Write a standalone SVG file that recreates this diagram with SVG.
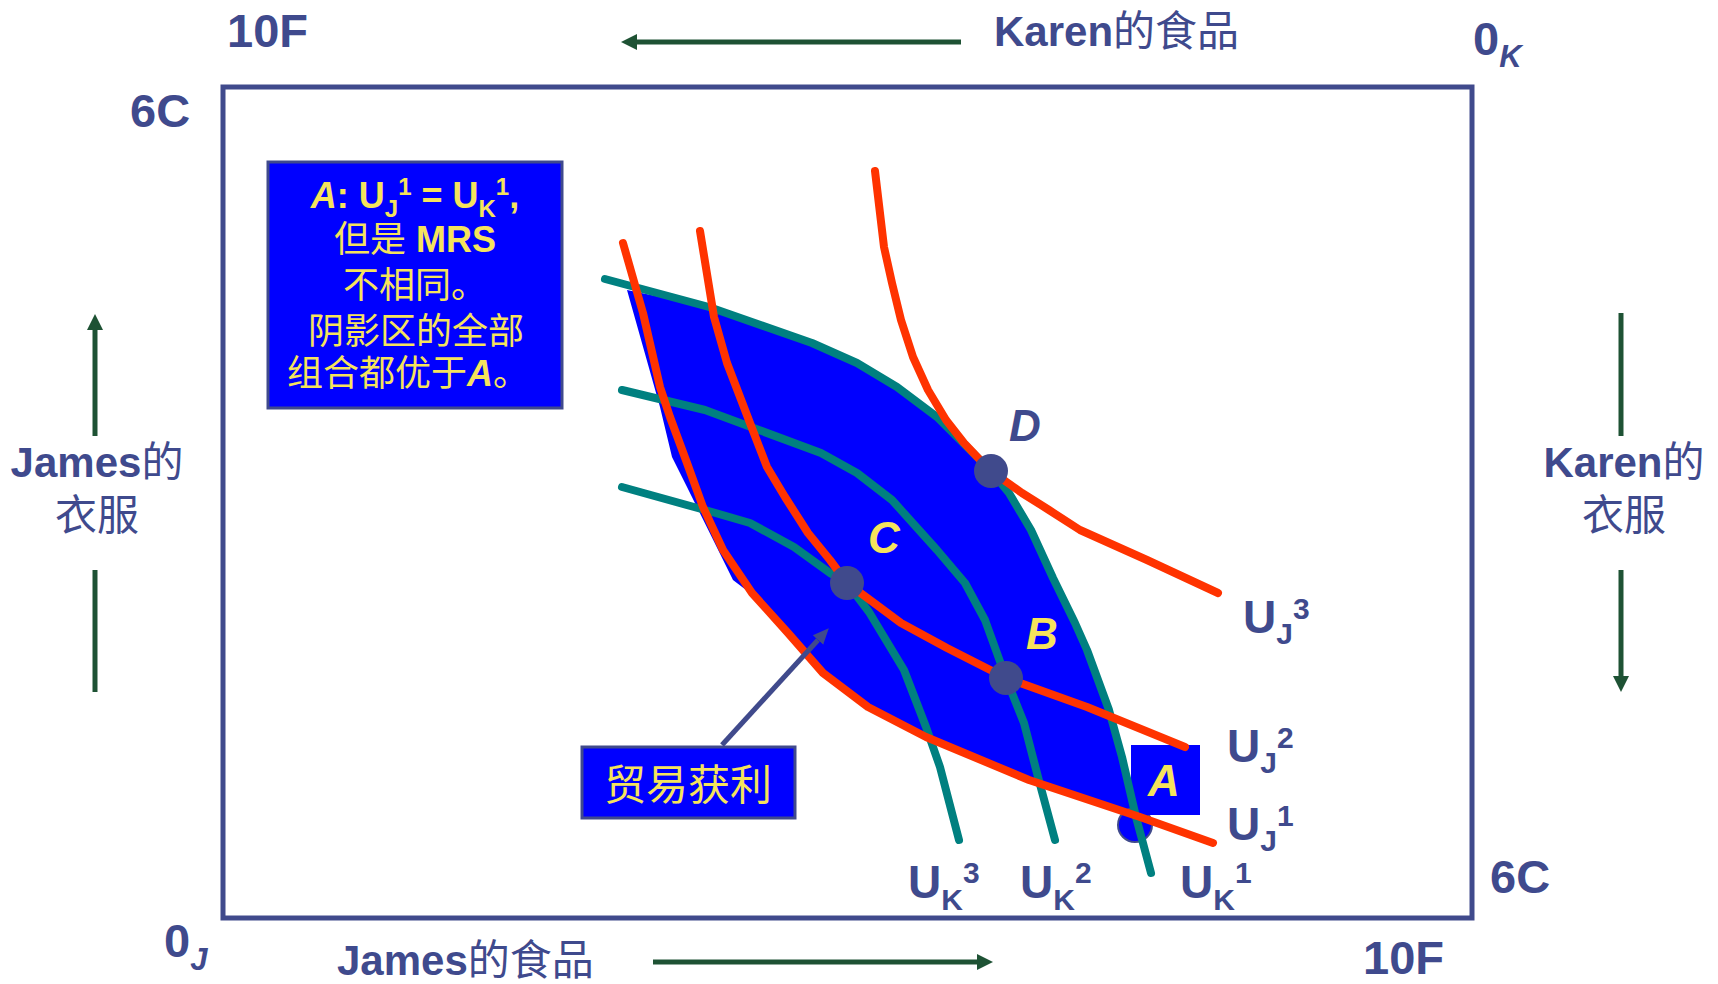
<svg xmlns="http://www.w3.org/2000/svg" width="1718" height="984" viewBox="0 0 1718 984">
<defs>
<style>
.t{font-family:'Liberation Sans','Noto Sans CJK SC',sans-serif;font-weight:bold;fill:#3F4A8D}
.c{font-weight:normal}
.y{fill:#F5E35C}
.i{font-style:italic}
.red{fill:none;stroke:#FF3300;stroke-width:8;stroke-linecap:round;stroke-linejoin:round}
.teal{fill:none;stroke:#008080;stroke-width:8;stroke-linecap:round;stroke-linejoin:round}
.dot{fill:#404A8C}
.g{stroke:#1E5234;stroke-width:5;fill:none}
.box{fill:#0000FF;stroke:#404A8C;stroke-width:3}
</style>
<marker id="gh" markerUnits="userSpaceOnUse" markerWidth="16" markerHeight="16" refX="0" refY="8" orient="auto"><path d="M0,0 L16,8 L0,16 z" fill="#1E5234"/></marker>
<marker id="sh" markerUnits="userSpaceOnUse" markerWidth="16" markerHeight="16" refX="0" refY="8" orient="auto"><path d="M0,1 L16,8 L0,15 z" fill="#404A8C"/></marker>
</defs>
<rect width="1718" height="984" fill="#FFFFFF"/>

<g id="frame">
<rect x="223" y="87" width="1249" height="831" fill="none" stroke="#404A8C" stroke-width="5"/>
</g>

<g id="axis-labels" class="t">
<text x="227" y="47" font-size="47">10F</text>
<text x="994" y="46" font-size="42">Karen<tspan class="c">的食品</tspan></text>
<text x="1473" y="55" font-size="47">0<tspan class="i" font-size="31" dy="12">K</tspan></text>
<text x="130" y="127" font-size="47">6C</text>
<text x="97" y="477" font-size="42" text-anchor="middle">James<tspan class="c">的</tspan></text>
<text x="97" y="530" font-size="42" text-anchor="middle" class="c">衣服</text>
<text x="1624" y="477" font-size="42" text-anchor="middle">Karen<tspan class="c">的</tspan></text>
<text x="1624" y="530" font-size="42" text-anchor="middle" class="c">衣服</text>
<text x="1490" y="893" font-size="47">6C</text>
<text x="164" y="957" font-size="47">0<tspan class="i" font-size="31" dy="13">J</tspan></text>
<text x="337" y="975" font-size="42">James<tspan class="c">的食品</tspan></text>
<text x="1363" y="974" font-size="47">10F</text>
</g>

<g id="gain-region">
<path d="M627,290 L709,307 L812,343 L857,363 L897,387 L937,417 L973,453 L991,471 L1009,493 L1031,530 L1053,578 L1075,623 L1087,650 L1109,710 L1122,757 L1137,818 L1029,780 L926,737 L868,707 L823,673 L788,633 L750,593 L733,580 L687,487 L672,457 L660,407 Z" fill="#0000FF"/>
</g>

<g id="point-A">
<circle cx="1135" cy="825" r="17" fill="#0000FF" stroke="#404A8C" stroke-width="2"/>
<rect x="1131" y="745" width="69" height="70" fill="#0000FF"/>
</g>

<g id="karen-curves">
<path class="teal" d="M605,279 L709,307 L812,343 L857,363 L897,387 L937,417 L973,453 L991,471 L1009,493 L1031,530 L1053,578 L1075,623 L1087,650 L1109,710 L1122,757 L1136,817 L1151,873"/>
<path class="teal" d="M622,390 L705,410 L759,430 L821,453 L857,473 L892,500 L937,550 L965,583 L985,620 L1006,678 L1024,723 L1038,777 L1055,840"/>
<path class="teal" d="M622,487 L705,510 L750,523 L794,547 L830,573 L847,583 L869,612 L904,670 L926,727 L940,767 L959,840"/>
</g>

<g id="james-curves">
<path class="red" d="M875,171 L884,247 L892,283 L901,320 L913,357 L928,390 L946,420 L964,443 L982,462 L991,471 L1022,493 L1049,510 L1080,530 L1147,560 L1218,593"/>
<path class="red" d="M700,231 L714,317 L727,363 L750,423 L767,467 L785,497 L808,533 L830,560 L847,583 L866,597 L901,623 L947,648 L1006,678 L1087,707 L1185,747"/>
<path class="red" d="M623,243 L643,313 L660,387 L670,417 L687,463 L703,507 L723,550 L752,593 L788,633 L823,673 L868,707 L926,737 L1029,780 L1140,817 L1213,843"/>
</g>

<g id="points">
<circle class="dot" cx="991" cy="471" r="17"/>
<circle class="dot" cx="847" cy="583" r="17"/>
<circle class="dot" cx="1006" cy="678" r="17"/>
</g>

<g id="point-labels" class="t i">
<text x="1009" y="441" font-size="44">D</text>
<text x="868" y="553" font-size="44" class="y">C</text>
<text x="1026" y="649" font-size="44" class="y">B</text>
<text x="1148" y="796" font-size="44" class="y">A</text>
</g>

<g id="curve-labels" class="t">
<text x="1243" y="633" font-size="46">U<tspan font-size="30" dy="11">J</tspan><tspan font-size="30" dy="-25">3</tspan></text>
<text x="1227" y="762" font-size="46">U<tspan font-size="30" dy="11">J</tspan><tspan font-size="30" dy="-25">2</tspan></text>
<text x="1227" y="840" font-size="46">U<tspan font-size="30" dy="11">J</tspan><tspan font-size="30" dy="-25">1</tspan></text>
<text x="908" y="898" font-size="46">U<tspan font-size="30" dy="12">K</tspan><tspan font-size="30" dy="-27">3</tspan></text>
<text x="1020" y="898" font-size="46">U<tspan font-size="30" dy="12">K</tspan><tspan font-size="30" dy="-27">2</tspan></text>
<text x="1180" y="898" font-size="46">U<tspan font-size="30" dy="12">K</tspan><tspan font-size="30" dy="-27">1</tspan></text>
</g>

<g id="note-box">
<rect class="box" x="268" y="162" width="294" height="246"/>
<g class="t y" font-size="36" text-anchor="middle">
<text x="415" y="208"><tspan class="i">A</tspan>: U<tspan font-size="24" dy="9">J</tspan><tspan font-size="24" dy="-22">1</tspan><tspan dy="13"> = U</tspan><tspan font-size="24" dy="9">K</tspan><tspan font-size="24" dy="-22">1</tspan><tspan dy="13">,</tspan></text>
<text x="415" y="252"><tspan class="c">但是 </tspan>MRS</text>
<text x="415" y="298" class="c">不相同。</text>
<text x="416" y="344" class="c">阴影区的全部</text>
<text x="408" y="386"><tspan class="c">组合都优于</tspan><tspan class="i">A</tspan><tspan class="c">。</tspan></text>
</g>
</g>

<g id="gain-box">
<rect class="box" x="582" y="747" width="213" height="71"/>
<text class="t y c" x="688" y="800" font-size="42" text-anchor="middle">贸易获利</text>
</g>

<g id="connectors">
<line class="g" x1="961" y1="42" x2="637" y2="42" marker-end="url(#gh)"/>
<line class="g" x1="653" y1="962" x2="977" y2="962" marker-end="url(#gh)"/>
<line class="g" x1="95" y1="436" x2="95" y2="330" marker-end="url(#gh)"/>
<line class="g" x1="95" y1="570" x2="95" y2="692"/>
<line class="g" x1="1621" y1="313" x2="1621" y2="436"/>
<line class="g" x1="1621" y1="570" x2="1621" y2="676" marker-end="url(#gh)"/>
<line x1="722" y1="745" x2="818" y2="640" stroke="#404A8C" stroke-width="5" marker-end="url(#sh)"/>
</g>
</svg>
